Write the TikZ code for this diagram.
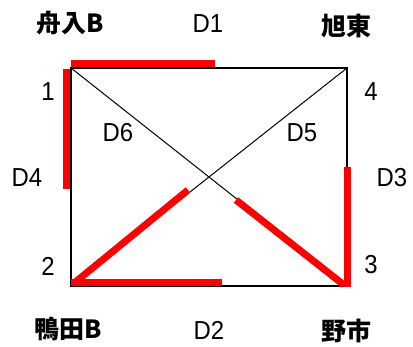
\documentclass[tikz,border=0pt]{standalone}
\usepackage{fontspec}
\setmainfont{Liberation Sans}[FakeStretch=0.92]
\newfontfamily\cjk{Noto Sans CJK JP}
\begin{document}
\begin{tikzpicture}[x=1pt,y=-1pt,
  frame/.style={line width=2.2pt},
  diag/.style={line width=1pt},
  hl/.style={red,line width=7pt},
  lbl/.style={font=\fontsize{26}{28}\selectfont,inner sep=0pt},
  site/.style={font=\cjk\bfseries\fontsize{25}{27}\selectfont,inner sep=0pt}]
\useasboundingbox (0,0) rectangle (413,347);
% corners
\coordinate (TL) at (71,68);
\coordinate (TR) at (347,68);
\coordinate (BL) at (71,286);
\coordinate (BR) at (347,286);
% frame and diagonals
\draw[frame] (TL) -- (TR) -- (BR) -- (BL) -- cycle;
\draw[diag] (TL) -- (BR);
\draw[diag] (TR) -- (BL);
% red highlight end points
\coordinate (r1a) at (71,63.5);  \coordinate (r1b) at (215,63.5);
\coordinate (r4a) at (66.5,69);  \coordinate (r4b) at (66.5,189);
\coordinate (r2a) at (71,283);   \coordinate (r2b) at (222,283);
\coordinate (r3a) at (347.5,167);\coordinate (r3b) at (347.5,287);
\coordinate (r6a) at (73,284);   \coordinate (r6b) at (188,190);
\coordinate (r5a) at (344,285);  \coordinate (r5b) at (236,200);
\draw[hl] (r1a) -- (r1b);
\draw[hl] (r4a) -- (r4b);
\draw[hl] (r2a) -- (r2b);
\draw[hl] (r3a) -- (r3b);
\draw[hl] (r6a) -- (r6b);
\draw[hl] (r5a) -- (r5b);
% labels
\node[site] (s1) at (70,23) {舟入B};
\node[site] (s4) at (346,26) {旭東};
\node[site] (s2) at (68,329) {鴨田B};
\node[site] (s3) at (346,331) {野市};
\node[lbl] (n1) at (48,92) {1};
\node[lbl] (n4) at (371,92) {4};
\node[lbl] (n2) at (48,266) {2};
\node[lbl] (n3) at (371,265) {3};
\node[lbl] (d1) at (208,24) {D1};
\node[lbl] (d2) at (209,330) {D2};
\node[lbl] (d3) at (392,178) {D3};
\node[lbl] (d4) at (27,178) {D4};
\node[lbl] (d5) at (302,133) {D5};
\node[lbl] (d6) at (118,133) {D6};
\end{tikzpicture}
\end{document}
